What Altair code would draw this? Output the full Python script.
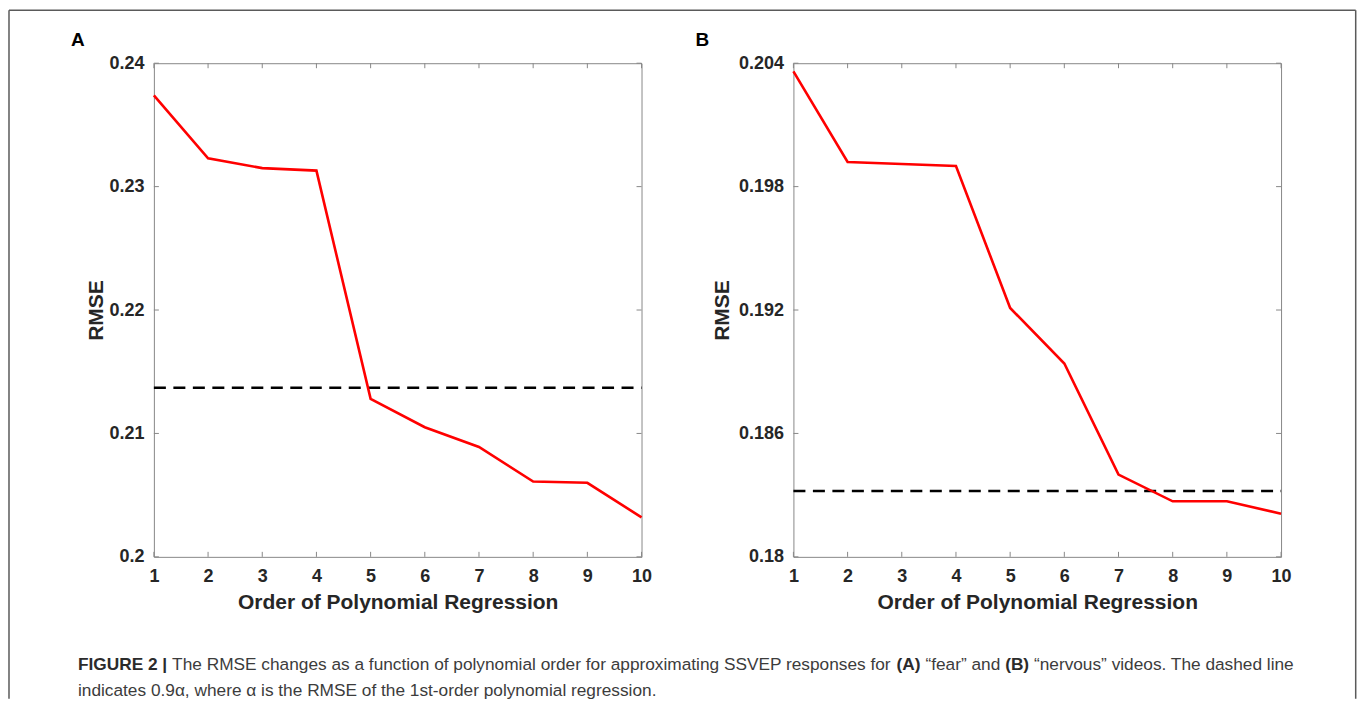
import altair as alt
import pandas as pd

# ---------------- data ----------------
orders = [1, 2, 3, 4, 5, 6, 7, 8, 9, 10]
rmse_fear = [0.2374, 0.2323, 0.2315, 0.2313, 0.2128, 0.2105, 0.2089, 0.2061, 0.2060, 0.2032]
rmse_nervous = [0.2036, 0.1992, 0.1991, 0.1990, 0.1921, 0.1894, 0.1840, 0.1827, 0.1827, 0.1821]
threshold_fear = 0.2137
threshold_nervous = 0.1832
x_ticks = [1, 2, 3, 4, 5, 6, 7, 8, 9, 10]
y_ticks_fear = [0.2, 0.21, 0.22, 0.23, 0.24]
y_ticks_nervous = [0.18, 0.186, 0.192, 0.198, 0.204]
panel_labels = ["A", "B"]
x_title = "Order of Polynomial Regression"
y_title = "RMSE"
caption_lines = [
    [("FIGURE 2 |", "bold"),
     (" The RMSE changes as a function of polynomial order for approximating SSVEP responses for ", "normal"),
     ("(A)", "bold"),
     (" \u201cfear\u201d and ", "normal"),
     ("(B)", "bold"),
     (" \u201cnervous\u201d videos. The dashed line", "normal")],
    [("indicates 0.9\u03b1, where \u03b1 is the RMSE of the 1st-order polynomial regression.", "normal")],
]

# ---------------- styling ----------------
FONT = "Liberation Sans"
W, H = 488, 494
TICK_COLOR = "#888888"
TEXT_COLOR = "#262626"
CAP_SIZE = 17.3

# Arial / Liberation Sans advance widths (per 1000 em)
REG = {' ': 278, '!': 278, '(': 333, ')': 333, ',': 278, '-': 333, '.': 278, '|': 260,
       'A': 667, 'B': 667, 'C': 722, 'D': 722, 'E': 667, 'F': 611, 'G': 778, 'H': 722, 'I': 278,
       'J': 500, 'K': 667, 'L': 556, 'M': 833, 'N': 722, 'O': 778, 'P': 667, 'Q': 778, 'R': 722,
       'S': 667, 'T': 611, 'U': 722, 'V': 667, 'W': 944, 'X': 667, 'Y': 667, 'Z': 611,
       'a': 556, 'b': 556, 'c': 500, 'd': 556, 'e': 556, 'f': 278, 'g': 556, 'h': 556, 'i': 222,
       'j': 222, 'k': 500, 'l': 222, 'm': 833, 'n': 556, 'o': 556, 'p': 556, 'q': 556, 'r': 333,
       's': 500, 't': 278, 'u': 556, 'v': 500, 'w': 722, 'x': 500, 'y': 500, 'z': 500,
       '\u201c': 333, '\u201d': 333, '\u03b1': 578}
BOLD = {' ': 278, '(': 333, ')': 333, '|': 280, 'A': 722, 'B': 722, 'E': 667, 'F': 611,
        'G': 778, 'I': 278, 'R': 722, 'U': 722}
for d in "0123456789":
    REG[d] = 556
    BOLD[d] = 556


def text_width(s, weight, size):
    table = BOLD if weight == "bold" else REG
    return sum(table.get(c, 556) for c in s) * size / 1000.0


def caption_rows(x0, y0, line_gap):
    rows = []
    for li, line in enumerate(caption_lines):
        x = x0
        for seg, weight in line:
            lead = len(seg) - len(seg.lstrip(" "))
            xs = x + text_width(" " * lead, weight, CAP_SIZE)
            rows.append({"t": seg.strip(" "), "x": xs, "y": y0 + li * line_gap, "w": weight})
            x += text_width(seg, weight, CAP_SIZE)
    return rows


def panel(values, thr, yticks, label, label_dx, title_x, extras=None):
    df = pd.DataFrame({"order": orders, "rmse": values})
    xscale = alt.Scale(domain=[orders[0], orders[-1]], nice=False, zero=False)
    yscale = alt.Scale(domain=[yticks[0], yticks[-1]], nice=False, zero=False)
    xenc = alt.X("order:Q", scale=xscale,
                 axis=alt.Axis(values=x_ticks, format="d", ticks=False, domain=False, grid=False,
                               labelFlush=False, labelOverlap=False, labelPadding=11,
                               labelFontSize=18, labelFontWeight="bold", labelColor=TEXT_COLOR,
                               title=x_title, titleFontSize=21, titleFontWeight="bold",
                               titleColor=TEXT_COLOR, titleBaseline="alphabetic", titleY=52))
    yenc = alt.Y("rmse:Q", scale=yscale,
                 axis=alt.Axis(values=yticks, format="~g", ticks=False, domain=False, grid=False,
                               labelFlush=False, labelOverlap=False, labelPadding=10,
                               labelFontSize=18, labelFontWeight="bold", labelColor=TEXT_COLOR,
                               title=y_title, titleFontSize=21, titleFontWeight="bold",
                               titleColor=TEXT_COLOR, titleAngle=270, titleBaseline="alphabetic",
                               titleX=title_x, titleY=H / 2))
    line = alt.Chart(df).mark_line(color="#ff0000", strokeWidth=2.6).encode(x=xenc, y=yenc)

    thr_df = pd.DataFrame({"x0": [orders[0]], "x1": [orders[-1]], "thr": [thr]})
    dash = alt.Chart(thr_df).mark_rule(color="black", strokeWidth=2.6, strokeDash=[12, 7.5]).encode(
        x=alt.X("x0:Q", scale=xscale), x2="x1:Q", y=alt.Y("thr:Q", scale=yscale))

    xt = pd.DataFrame({"t": x_ticks})
    yt = pd.DataFrame({"v": yticks})
    tick_style = dict(color=TICK_COLOR, strokeWidth=1)
    xt_bot = alt.Chart(xt).mark_rule(**tick_style).encode(
        x=alt.X("t:Q", scale=xscale), y=alt.value(H), y2=alt.value(H - 5))
    xt_top = alt.Chart(xt).mark_rule(**tick_style).encode(
        x=alt.X("t:Q", scale=xscale), y=alt.value(0), y2=alt.value(5))
    yt_left = alt.Chart(yt).mark_rule(**tick_style).encode(
        y=alt.Y("v:Q", scale=yscale), x=alt.value(0), x2=alt.value(5))
    yt_right = alt.Chart(yt).mark_rule(**tick_style).encode(
        y=alt.Y("v:Q", scale=yscale), x=alt.value(W - 5), x2=alt.value(W))

    lab = alt.Chart(pd.DataFrame({"t": [label]})).mark_text(
        font=FONT, fontSize=19, fontWeight="bold", color="black", align="left",
        baseline="alphabetic").encode(text="t:N", x=alt.value(label_dx), y=alt.value(-17.5))

    layers = [xt_bot, xt_top, yt_left, yt_right, dash, line, lab]
    if extras:
        layers += extras
    return alt.layer(*layers).properties(width=W, height=H)


# frame around the whole figure and the caption (drawn from panel A's origin)
frame_df = pd.DataFrame({"k": [0]})
frame_style = dict(color="#5a5a5a", strokeWidth=1.5)
frame_top = alt.Chart(frame_df).mark_rule(**frame_style).encode(
    x=alt.value(-145), x2=alt.value(1202.7), y=alt.value(-53))
frame_left = alt.Chart(frame_df).mark_rule(**frame_style).encode(
    x=alt.value(-145), y=alt.value(-53), y2=alt.value(636))
frame_right = alt.Chart(frame_df).mark_rule(**frame_style).encode(
    x=alt.value(1202.7), y=alt.value(-53), y2=alt.value(636))

cap_df = pd.DataFrame(caption_rows(-76, 607.5, 26))
cap_bold = alt.Chart(cap_df[cap_df.w == "bold"]).mark_text(
    font=FONT, fontSize=CAP_SIZE, fontWeight="bold", color="#2b2b2b", align="left",
    baseline="alphabetic").encode(text="t:N", x=alt.X("x:Q", scale=None), y=alt.Y("y:Q", scale=None))
cap_reg = alt.Chart(cap_df[cap_df.w == "normal"]).mark_text(
    font=FONT, fontSize=CAP_SIZE, fontWeight="normal", color="#3c3c3c", align="left",
    baseline="alphabetic").encode(text="t:N", x=alt.X("x:Q", scale=None), y=alt.Y("y:Q", scale=None))

panel_a = panel(rmse_fear, threshold_fear, y_ticks_fear, panel_labels[0], -83, -51,
                extras=[frame_top, frame_left, frame_right, cap_bold, cap_reg])
panel_b = panel(rmse_nervous, threshold_nervous, y_ticks_nervous, panel_labels[1], -98, -65)

chart = alt.hconcat(panel_a, panel_b, spacing=152, bounds="flush").properties(
    padding={"left": 7, "top": 8, "right": 1, "bottom": 0},
    autosize=alt.AutoSizeParams(type="pad"),
    background="white",
).configure_view(stroke=TICK_COLOR, strokeWidth=1).configure_axis(
    labelFont=FONT, titleFont=FONT).resolve_scale(x="independent", y="independent")

chart.save("out.html", embed_options={"renderer": "svg", "actions": False})
